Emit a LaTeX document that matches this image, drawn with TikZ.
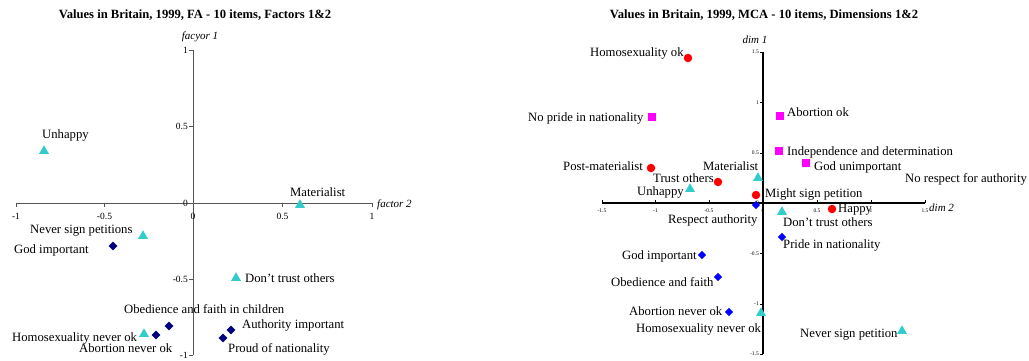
\documentclass[tikz,border=0pt]{standalone}
\usepackage{fontspec}
\setmainfont{Liberation Serif}
\usetikzlibrary{shapes.geometric}
\definecolor{cyanc}{HTML}{33CCCC}
\definecolor{navyc}{HTML}{000080}
\definecolor{bluec}{HTML}{0000FF}
\definecolor{redc}{HTML}{FF0000}
\definecolor{magc}{HTML}{FF00FF}
\definecolor{axgray}{HTML}{555555}
\tikzset{
  tri/.style={regular polygon, regular polygon sides=3, fill=cyanc, inner sep=0pt, minimum size=11.5pt},
  ndia/.style={diamond, fill=navyc, inner sep=0pt, minimum size=9pt},
  bdia/.style={diamond, fill=bluec, inner sep=0pt, minimum size=8.5pt},
  circ/.style={circle, fill=redc, inner sep=0pt, minimum size=8.5pt},
  sq/.style={rectangle, fill=magc, inner sep=0pt, minimum size=8pt},
  lab/.style={font=\fontsize{12.7}{14}\selectfont, inner sep=0pt, text height=8pt, text depth=2.5pt, anchor=west, yshift=-2pt},
  ttl/.style={font=\fontsize{12.6}{14}\selectfont\bfseries, inner sep=0pt},
  axn/.style={font=\fontsize{11}{12}\selectfont\itshape, inner sep=0pt},
  ltick/.style={font=\fontsize{9.5}{10}\selectfont, inner sep=0pt},
  rtick/.style={font=\fontsize{5.5}{6}\selectfont, inner sep=0pt},
  laxis/.style={draw=axgray, line width=1pt},
  raxis/.style={draw=black, line width=1.3pt}
}
\begin{document}
\begin{tikzpicture}[x=1pt,y=-1pt]
\useasboundingbox (0,0) rectangle (1029,360);
% ================= LEFT CHART =================
\node[ttl] (ltitle) at (195,15) {Values in Britain, 1999, FA - 10 items, Factors 1\&2};
\coordinate (lyt) at (193,50);
\coordinate (lyb) at (193,355);
\coordinate (lxl) at (16,203);
\coordinate (lxr) at (372,203);
\draw[laxis] (lyt) -- (lyb);
\draw[laxis] (lxl) -- (lxr);
\foreach \v/\yy in {1/50,0.5/126.5,0/203,-0.5/279,-1/355}{
  \draw[axgray, line width=0.8pt] (189,\yy) -- (193,\yy);
  \node[ltick, anchor=east] at (188,\yy) {\v};
}
\foreach \v/\xx in {-1/16,-0.5/104.5,0/193,0.5/282.5,1/372}{
  \draw[axgray, line width=0.8pt] (\xx,203) -- (\xx,207);
  \node[ltick] at (\xx,216) {\v};
}
\node[axn] (lyname) at (200,37) {facyor 1};
\node[axn, anchor=west] (lxname) at (377,205) {factor 2};
% markers
\node[tri] (l1) at (44,151) {};
\node[tri] (l2) at (300,205) {};
\node[tri] (l3) at (143,236) {};
\node[tri] (l4) at (236,278) {};
\node[tri] (l5) at (144,334) {};
\node[ndia] (l6) at (113,246) {};
\node[ndia] (l7) at (169,326) {};
\node[ndia] (l8) at (156,335) {};
\node[ndia] (l9) at (231,330) {};
\node[ndia] (l10) at (223,338) {};
% labels
\node[lab] (lt1) at (42,134) {Unhappy};
\node[lab] (lt2) at (290,192) {Materialist};
\node[lab] (lt3) at (30,229) {Never sign petitions};
\node[lab] (lt4) at (14,249) {God important};
\node[lab] (lt5) at (245,278) {Don't trust others};
\node[lab] (lt6) at (124,309) {Obedience and faith in children};
\node[lab] (lt7) at (12,337) {Homosexuality never ok};
\node[lab] (lt8) at (79,348) {Abortion never ok};
\node[lab] (lt9) at (242,324) {Authority important};
\node[lab] (lt10) at (228,348) {Proud of nationality};
% ================= RIGHT CHART =================
\node[ttl] (rtitle) at (764,15) {Values in Britain, 1999, MCA - 10 items, Dimensions 1\&2};
\coordinate (ryt) at (763,52);
\coordinate (ryb) at (763,354);
\coordinate (rxl) at (602,203);
\coordinate (rxr) at (925,203);
\draw[raxis] (ryt) -- (ryb);
\draw[raxis] (rxl) -- (rxr);
\foreach \v/\yy in {1.5/52,1/102.5,0.5/153,0/203,-0.5/253.5,-1/304,-1.5/354}{
  \draw[black, line width=0.6pt] (760,\yy) -- (763,\yy);
  \node[rtick, anchor=east] at (759,\yy) {\v};
}
\foreach \v/\xx in {-1.5/602,-1/655.5,-0.5/709,0/763,0.5/817,1/871,1.5/925}{
  \draw[black, line width=0.6pt] (\xx,200) -- (\xx,203);
  \node[rtick] at (\xx,210.5) {\v};
}
\node[axn] (ryname) at (755,40) {dim 1};
\node[axn, anchor=west] (rxname) at (929,208) {dim 2};
% markers
\node[circ] (r1) at (688,58) {};
\node[circ] (r2) at (651,168) {};
\node[circ] (r3) at (718,182) {};
\node[circ] (r4) at (756,195) {};
\node[circ] (r5) at (832,209) {};
\node[sq] (r6) at (652,117) {};
\node[sq] (r7) at (780,116) {};
\node[sq] (r8) at (779,151) {};
\node[sq] (r9) at (806,163) {};
\node[tri] (r10) at (758,178) {};
\node[tri] (r11) at (690,189) {};
\node[tri] (r12) at (782,212) {};
\node[tri] (r13) at (761,313) {};
\node[tri] (r14) at (902,331) {};
\node[bdia] (r15) at (756,205) {};
\node[bdia] (r16) at (782,237) {};
\node[bdia] (r17) at (702,255) {};
\node[bdia] (r18) at (718,277) {};
\node[bdia] (r19) at (729,312) {};
% labels
\node[lab] (rt1) at (590,52) {Homosexuality ok};
\node[lab] (rt2) at (528,117) {No pride in nationality};
\node[lab] (rt3) at (787,112) {Abortion ok};
\node[lab] (rt4) at (787,151) {Independence and determination};
\node[lab] (rt5) at (814,166) {God unimportant};
\node[lab] (rt6) at (905,178) {No respect for authority};
\node[lab] (rt7) at (563,166) {Post-materialist};
\node[lab] (rt8) at (653,178) {Trust others};
\node[lab] (rt9) at (703,166) {Materialist};
\node[lab] (rt10) at (637,191) {Unhappy};
\node[lab] (rt11) at (765,193) {Might sign petition};
\node[lab] (rt12) at (668,219) {Respect authority};
\node[lab] (rt13) at (838,208) {Happy};
\node[lab] (rt14) at (783,222) {Don't trust others};
\node[lab] (rt15) at (783,244) {Pride in nationality};
\node[lab] (rt16) at (622,255) {God important};
\node[lab] (rt17) at (611,282) {Obedience and faith};
\node[lab] (rt18) at (629,311) {Abortion never ok};
\node[lab] (rt19) at (636,328) {Homosexuality never ok};
\node[lab] (rt20) at (800,333) {Never sign petition};
\end{tikzpicture}
\end{document}
